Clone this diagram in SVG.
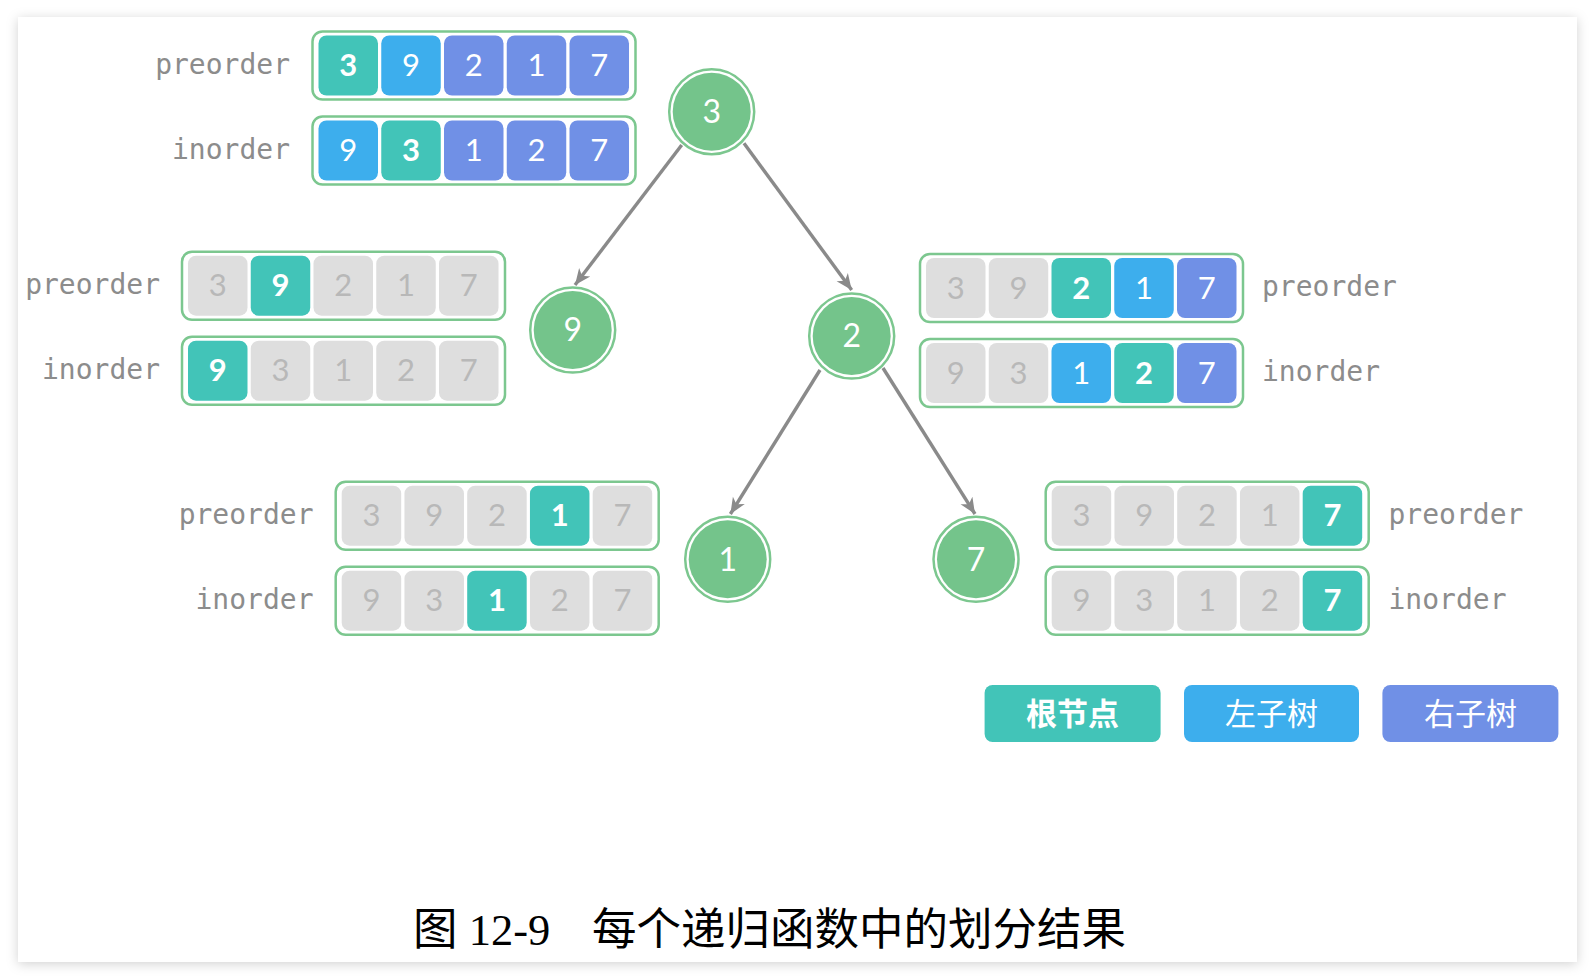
<svg xmlns="http://www.w3.org/2000/svg" width="1595" height="980" viewBox="0 0 1595 980">
<defs>
<filter id="sh" x="-5%" y="-5%" width="110%" height="110%">
<feDropShadow dx="0" dy="2" stdDeviation="6" flood-color="#000" flood-opacity="0.18"/>
</filter>
<marker id="arr" markerUnits="userSpaceOnUse" markerWidth="20" markerHeight="18" refX="16" refY="9" orient="auto">
<path d="M0,2 L16,9 L0,16 L4.5,9 z" fill="#8a8a8a"/>
</marker>
<style>
.box{fill:#fff;stroke:#7cc78f;stroke-width:2.5}
.c{stroke:none}
.root{fill:#42c4b8}
.left{fill:#3daeed}
.right{fill:#7090e6}
.gray{fill:#dedede}
.d{font-family:Lato,"Open Sans","DejaVu Sans",sans-serif;font-size:31px;fill:#fff;text-anchor:middle}
.db{font-weight:bold}
.dg{fill:#b8b8b8}
.lab{font-family:"DejaVu Sans Mono","Liberation Mono",monospace;font-size:28px;fill:#8c8c8c}
.la{text-anchor:end}
.edge{stroke:#8a8a8a;stroke-width:3.4;fill:none;marker-end:url(#arr)}
.nring{fill:none;stroke:#7cc78f;stroke-width:2.5}
.nfill{fill:#74c48b}
.nt{font-family:Lato,"Open Sans","DejaVu Sans",sans-serif;font-size:32px;fill:#fff;text-anchor:middle}
.leg{font-family:"Noto Sans CJK SC",sans-serif;font-size:31px;fill:#fff;text-anchor:middle}
.cap{font-family:"Liberation Serif","Noto Sans CJK SC",serif;font-size:44.5px;fill:#000}
</style>
</defs>
<rect x="0" y="0" width="1595" height="980" fill="#fff"/>
<rect x="18" y="17" width="1559" height="945" fill="#fff" filter="url(#sh)"/>

<g id="connectors">
<line class="edge" x1="681.7" y1="145" x2="575" y2="285"/>
<line class="edge" x1="744" y1="143.3" x2="851.7" y2="290"/>
<line class="edge" x1="820" y1="370" x2="730.4" y2="514"/>
<line class="edge" x1="883" y1="368" x2="975" y2="514"/>
</g>

<g id="node-3">
<circle class="nring" cx="711.7" cy="111.7" r="42.5"/>
<circle class="nfill" cx="711.7" cy="111.7" r="39"/>
<text class="nt" x="711.7" y="123">3</text>
</g>
<g id="node-9">
<circle class="nring" cx="572.7" cy="330" r="42.5"/>
<circle class="nfill" cx="572.7" cy="330" r="39"/>
<text class="nt" x="572.7" y="341.3">9</text>
</g>
<g id="node-2">
<circle class="nring" cx="851.7" cy="336" r="42.5"/>
<circle class="nfill" cx="851.7" cy="336" r="39"/>
<text class="nt" x="851.7" y="347.3">2</text>
</g>
<g id="node-1">
<circle class="nring" cx="727.7" cy="559.3" r="42.5"/>
<circle class="nfill" cx="727.7" cy="559.3" r="39"/>
<text class="nt" x="727.7" y="570.6">1</text>
</g>
<g id="node-7">
<circle class="nring" cx="976" cy="559.3" r="42.5"/>
<circle class="nfill" cx="976" cy="559.3" r="39"/>
<text class="nt" x="976" y="570.6">7</text>
</g>

<!-- Group A: top -->
<g id="arrays-root-3">
<text class="lab la" x="290" y="73.5">preorder</text>
<rect class="box" x="312.5" y="31.5" width="323" height="68" rx="10"/>
<rect class="c root" x="318.5" y="35.5" width="59.5" height="60" rx="8"/>
<rect class="c left" x="381.25" y="35.5" width="59.5" height="60" rx="8"/>
<rect class="c right" x="444" y="35.5" width="59.5" height="60" rx="8"/>
<rect class="c right" x="506.75" y="35.5" width="59.5" height="60" rx="8"/>
<rect class="c right" x="569.5" y="35.5" width="59.5" height="60" rx="8"/>
<text class="d db" x="348.25" y="76">3</text>
<text class="d" x="411" y="76">9</text>
<text class="d" x="473.75" y="76">2</text>
<text class="d" x="536.5" y="76">1</text>
<text class="d" x="599.25" y="76">7</text>
<text class="lab la" x="290" y="158.5">inorder</text>
<rect class="box" x="312.5" y="116.5" width="323" height="68" rx="10"/>
<rect class="c left" x="318.5" y="120.5" width="59.5" height="60" rx="8"/>
<rect class="c root" x="381.25" y="120.5" width="59.5" height="60" rx="8"/>
<rect class="c right" x="444" y="120.5" width="59.5" height="60" rx="8"/>
<rect class="c right" x="506.75" y="120.5" width="59.5" height="60" rx="8"/>
<rect class="c right" x="569.5" y="120.5" width="59.5" height="60" rx="8"/>
<text class="d" x="348.25" y="161">9</text>
<text class="d db" x="411" y="161">3</text>
<text class="d" x="473.75" y="161">1</text>
<text class="d" x="536.5" y="161">2</text>
<text class="d" x="599.25" y="161">7</text>
</g>

<!-- Group B: left middle -->
<g id="arrays-root-9">
<text class="lab la" x="160" y="293.7">preorder</text>
<rect class="box" x="182" y="251.7" width="323" height="68" rx="10"/>
<rect class="c gray" x="188" y="255.7" width="59.5" height="60" rx="8"/>
<rect class="c root" x="250.75" y="255.7" width="59.5" height="60" rx="8"/>
<rect class="c gray" x="313.5" y="255.7" width="59.5" height="60" rx="8"/>
<rect class="c gray" x="376.25" y="255.7" width="59.5" height="60" rx="8"/>
<rect class="c gray" x="439" y="255.7" width="59.5" height="60" rx="8"/>
<text class="d dg" x="217.75" y="296.2">3</text>
<text class="d db" x="280.5" y="296.2">9</text>
<text class="d dg" x="343.25" y="296.2">2</text>
<text class="d dg" x="406" y="296.2">1</text>
<text class="d dg" x="468.75" y="296.2">7</text>
<text class="lab la" x="160" y="378.7">inorder</text>
<rect class="box" x="182" y="336.7" width="323" height="68" rx="10"/>
<rect class="c root" x="188" y="340.7" width="59.5" height="60" rx="8"/>
<rect class="c gray" x="250.75" y="340.7" width="59.5" height="60" rx="8"/>
<rect class="c gray" x="313.5" y="340.7" width="59.5" height="60" rx="8"/>
<rect class="c gray" x="376.25" y="340.7" width="59.5" height="60" rx="8"/>
<rect class="c gray" x="439" y="340.7" width="59.5" height="60" rx="8"/>
<text class="d db" x="217.75" y="381.2">9</text>
<text class="d dg" x="280.5" y="381.2">3</text>
<text class="d dg" x="343.25" y="381.2">1</text>
<text class="d dg" x="406" y="381.2">2</text>
<text class="d dg" x="468.75" y="381.2">7</text>
</g>

<!-- Group C: right middle -->
<g id="arrays-root-2">
<text class="lab" x="1262" y="296">preorder</text>
<rect class="box" x="920" y="254" width="323" height="68" rx="10"/>
<rect class="c gray" x="926" y="258" width="59.5" height="60" rx="8"/>
<rect class="c gray" x="988.75" y="258" width="59.5" height="60" rx="8"/>
<rect class="c root" x="1051.5" y="258" width="59.5" height="60" rx="8"/>
<rect class="c left" x="1114.25" y="258" width="59.5" height="60" rx="8"/>
<rect class="c right" x="1177" y="258" width="59.5" height="60" rx="8"/>
<text class="d dg" x="955.75" y="298.5">3</text>
<text class="d dg" x="1018.5" y="298.5">9</text>
<text class="d db" x="1081.25" y="298.5">2</text>
<text class="d" x="1144" y="298.5">1</text>
<text class="d" x="1206.75" y="298.5">7</text>
<text class="lab" x="1262" y="381">inorder</text>
<rect class="box" x="920" y="339" width="323" height="68" rx="10"/>
<rect class="c gray" x="926" y="343" width="59.5" height="60" rx="8"/>
<rect class="c gray" x="988.75" y="343" width="59.5" height="60" rx="8"/>
<rect class="c left" x="1051.5" y="343" width="59.5" height="60" rx="8"/>
<rect class="c root" x="1114.25" y="343" width="59.5" height="60" rx="8"/>
<rect class="c right" x="1177" y="343" width="59.5" height="60" rx="8"/>
<text class="d dg" x="955.75" y="383.5">9</text>
<text class="d dg" x="1018.5" y="383.5">3</text>
<text class="d" x="1081.25" y="383.5">1</text>
<text class="d db" x="1144" y="383.5">2</text>
<text class="d" x="1206.75" y="383.5">7</text>
</g>

<!-- Group D: bottom left -->
<g id="arrays-root-1">
<text class="lab la" x="313.5" y="523.7">preorder</text>
<rect class="box" x="335.7" y="481.7" width="323" height="68" rx="10"/>
<rect class="c gray" x="341.7" y="485.7" width="59.5" height="60" rx="8"/>
<rect class="c gray" x="404.45" y="485.7" width="59.5" height="60" rx="8"/>
<rect class="c gray" x="467.2" y="485.7" width="59.5" height="60" rx="8"/>
<rect class="c root" x="529.95" y="485.7" width="59.5" height="60" rx="8"/>
<rect class="c gray" x="592.7" y="485.7" width="59.5" height="60" rx="8"/>
<text class="d dg" x="371.45" y="526.2">3</text>
<text class="d dg" x="434.2" y="526.2">9</text>
<text class="d dg" x="496.95" y="526.2">2</text>
<text class="d db" x="559.7" y="526.2">1</text>
<text class="d dg" x="622.45" y="526.2">7</text>
<text class="lab la" x="313.5" y="608.7">inorder</text>
<rect class="box" x="335.7" y="566.7" width="323" height="68" rx="10"/>
<rect class="c gray" x="341.7" y="570.7" width="59.5" height="60" rx="8"/>
<rect class="c gray" x="404.45" y="570.7" width="59.5" height="60" rx="8"/>
<rect class="c root" x="467.2" y="570.7" width="59.5" height="60" rx="8"/>
<rect class="c gray" x="529.95" y="570.7" width="59.5" height="60" rx="8"/>
<rect class="c gray" x="592.7" y="570.7" width="59.5" height="60" rx="8"/>
<text class="d dg" x="371.45" y="611.2">9</text>
<text class="d dg" x="434.2" y="611.2">3</text>
<text class="d db" x="496.95" y="611.2">1</text>
<text class="d dg" x="559.7" y="611.2">2</text>
<text class="d dg" x="622.45" y="611.2">7</text>
</g>

<!-- Group E: bottom right -->
<g id="arrays-root-7">
<text class="lab" x="1388.5" y="523.7">preorder</text>
<rect class="box" x="1045.7" y="481.7" width="323" height="68" rx="10"/>
<rect class="c gray" x="1051.7" y="485.7" width="59.5" height="60" rx="8"/>
<rect class="c gray" x="1114.45" y="485.7" width="59.5" height="60" rx="8"/>
<rect class="c gray" x="1177.2" y="485.7" width="59.5" height="60" rx="8"/>
<rect class="c gray" x="1239.95" y="485.7" width="59.5" height="60" rx="8"/>
<rect class="c root" x="1302.7" y="485.7" width="59.5" height="60" rx="8"/>
<text class="d dg" x="1081.45" y="526.2">3</text>
<text class="d dg" x="1144.2" y="526.2">9</text>
<text class="d dg" x="1206.95" y="526.2">2</text>
<text class="d dg" x="1269.7" y="526.2">1</text>
<text class="d db" x="1332.45" y="526.2">7</text>
<text class="lab" x="1388.5" y="608.7">inorder</text>
<rect class="box" x="1045.7" y="566.7" width="323" height="68" rx="10"/>
<rect class="c gray" x="1051.7" y="570.7" width="59.5" height="60" rx="8"/>
<rect class="c gray" x="1114.45" y="570.7" width="59.5" height="60" rx="8"/>
<rect class="c gray" x="1177.2" y="570.7" width="59.5" height="60" rx="8"/>
<rect class="c gray" x="1239.95" y="570.7" width="59.5" height="60" rx="8"/>
<rect class="c root" x="1302.7" y="570.7" width="59.5" height="60" rx="8"/>
<text class="d dg" x="1081.45" y="611.2">9</text>
<text class="d dg" x="1144.2" y="611.2">3</text>
<text class="d dg" x="1206.95" y="611.2">1</text>
<text class="d dg" x="1269.7" y="611.2">2</text>
<text class="d db" x="1332.45" y="611.2">7</text>
</g>

<g id="legend-root">
<rect class="root" x="984.6" y="685" width="176" height="57" rx="8"/>
<text class="leg" x="1072.6" y="724.5" font-weight="bold">根节点</text>
</g>
<g id="legend-left">
<rect class="left" x="1184" y="685" width="175" height="57" rx="8"/>
<text class="leg" x="1271.5" y="724.5">左子树</text>
</g>
<g id="legend-right">
<rect class="right" x="1382.4" y="685" width="176" height="57" rx="8"/>
<text class="leg" x="1470.4" y="724.5">右子树</text>
</g>

<g id="caption">
<text class="cap" x="413" y="945">图 12-9</text>
<text class="cap" x="592" y="945">每个递归函数中的划分结果</text>
</g>
</svg>
